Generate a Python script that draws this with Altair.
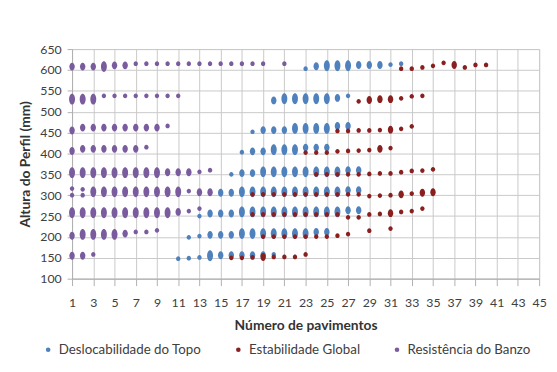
import altair as alt
import pandas as pd

SERIES = ["Deslocabilidade do Topo", "Estabilidade Global", "Resistência do Banzo"]
COLORS = ["#4f81bd", "#8a1f1f", "#7a5c9e"]

X_TICKS = [1, 3, 5, 7, 9, 11, 13, 15, 17, 19, 21, 23, 25, 27, 29, 31, 33, 35, 37, 39, 41, 43, 45]
Y_TICKS = [100, 150, 200, 250, 300, 350, 400, 450, 500, 550, 600, 650]

# n = how many profiles are stacked at that spot (1 single, 2 pair, 3 many)

# Deslocabilidade do Topo
dt_x = [23, 24, 25, 26, 27, 28, 29, 30, 31, 32,
        20, 21, 22, 23, 24, 25, 26, 27,
        18, 19, 20, 21, 22, 23, 24, 25, 26, 27,
        17, 18, 19, 20, 21, 22, 23, 24, 25,
        16, 17, 18, 19, 20, 21, 22, 23, 24, 25, 26, 27, 28,
        15, 16, 17, 18, 19, 20, 21, 22, 23, 24, 25, 26, 27, 28,
        13, 14, 15, 16, 17, 18, 19, 20, 21, 22, 23, 24, 25, 26, 27, 28,
        12, 13, 14, 15, 16, 17, 18, 19, 20, 21, 22, 23, 24, 25,
        11, 12, 13, 14, 15, 16, 17, 18, 19, 20]
dt_y = [603, 609, 610, 610, 610, 612, 612, 612, 613, 615,
        527, 531, 531, 531, 531, 531, 533, 538,
        452, 456, 456, 456, 460, 460, 460, 460, 466, 466,
        403, 405, 405, 409, 409, 409, 414, 414, 414,
        350, 353, 353, 356, 356, 356, 356, 356, 356, 356, 356, 360, 360,
        306, 306, 308, 308, 308, 308, 308, 308, 308, 308, 308, 308, 312, 312,
        250, 256, 256, 256, 260, 260, 260, 260, 260, 260, 260, 260, 260, 260, 264, 264,
        199, 202, 205, 205, 205, 208, 208, 208, 208, 208, 208, 208, 212, 212,
        148, 149, 151, 155, 156, 156, 156, 156, 156, 158]
dt_n = [1, 2, 3, 3, 3, 2, 2, 2, 1, 1,
        2, 3, 3, 3, 3, 3, 2, 1,
        1, 2, 2, 2, 3, 3, 3, 3, 2, 2,
        1, 2, 2, 3, 3, 3, 2, 2, 2,
        1, 2, 2, 3, 3, 3, 3, 3, 3, 3, 3, 2, 2,
        2, 2, 3, 3, 3, 3, 3, 3, 3, 3, 3, 3, 2, 2,
        1, 2, 2, 2, 3, 3, 3, 3, 3, 3, 3, 3, 3, 3, 2, 2,
        1, 1, 2, 2, 2, 3, 3, 3, 3, 3, 3, 3, 2, 2,
        1, 1, 1, 3, 2, 2, 2, 2, 2, 1]

# Estabilidade Global
eg_x = [32, 33, 34, 35, 36, 37, 38, 39, 40,
        28, 29, 30, 31, 32, 33, 34,
        26, 27, 28, 29, 30, 31, 32, 33,
        23, 24, 25, 26, 27, 28, 29, 30, 31,
        24, 25, 26, 27, 28, 29, 30, 31, 32, 33, 34, 35,
        18, 19, 20, 21, 22, 23, 24, 25, 26, 27, 28, 29, 30, 31, 32, 33, 34, 35,
        18, 19, 20, 21, 22, 23, 24, 25, 26, 27, 28, 29, 30, 31, 32, 33, 34,
        19, 20, 21, 22, 23, 24, 25, 26, 27, 29, 31,
        16, 17, 18, 19, 20, 21, 22, 23]
eg_y = [603, 603, 606, 610, 617, 612, 606, 612, 612,
        525, 528, 530, 530, 532, 537, 538,
        454, 454, 455, 455, 456, 457, 459, 465,
        402, 402, 402, 405, 406, 407, 408, 411, 413,
        350, 350, 350, 350, 350, 351, 352, 352, 355, 358, 359, 362,
        302, 302, 302, 302, 302, 302, 302, 302, 302, 302, 302, 298, 299, 300, 302, 304, 306, 307,
        254, 254, 254, 254, 254, 254, 254, 254, 254, 247, 247, 254, 255, 257, 260, 262, 268,
        201, 201, 201, 201, 201, 201, 201, 203, 207, 215, 220,
        150, 150, 151, 152, 152, 152, 152, 158]
eg_n = [1, 1, 1, 1, 1, 2, 1, 1, 1,
        1, 2, 2, 2, 1, 1, 1,
        1, 1, 1, 1, 1, 2, 1, 1,
        1, 1, 1, 1, 1, 1, 1, 2, 1,
        1, 1, 1, 1, 1, 1, 1, 1, 1, 1, 1, 1,
        1, 1, 1, 1, 1, 1, 1, 1, 1, 1, 1, 1, 1, 1, 2, 1, 2, 2,
        1, 1, 1, 1, 1, 1, 1, 1, 1, 1, 1, 1, 1, 2, 1, 1, 1,
        1, 1, 1, 1, 1, 1, 1, 1, 1, 1, 1,
        1, 1, 1, 2, 1, 1, 1, 1]

# Resistência do Banzo
rb_x = [1, 2, 3, 4, 5, 6, 7, 8, 9, 10, 11, 12, 13, 14, 15, 16, 17, 18, 19, 21,
        1, 2, 3, 4, 5, 6, 7, 8, 9, 10, 11,
        1, 2, 3, 4, 5, 6, 7, 8, 9, 10,
        1, 2, 3, 4, 5, 6, 7, 8,
        1, 2, 3, 4, 5, 6, 7, 8, 9, 10, 11, 12, 13, 14,
        1, 1, 2, 2, 3, 4, 5, 6, 7, 8, 9, 10, 11, 12, 13, 14,
        1, 2, 3, 4, 5, 6, 7, 8, 9, 10, 11, 12, 13,
        1, 2, 3, 4, 5, 6, 7, 8, 9,
        1, 2, 3]
rb_y = [608, 608, 608, 608, 611, 611, 615, 615, 615, 615, 615, 615, 615, 615, 615, 615, 615, 615, 615, 615,
        530, 530, 530, 538, 538, 538, 538, 538, 538, 538, 538,
        455, 462, 462, 462, 462, 462, 462, 462, 462, 466,
        406, 411, 411, 411, 411, 411, 411, 415,
        354, 354, 354, 354, 354, 354, 354, 354, 354, 355, 355, 355, 356, 360,
        316, 300, 314, 300, 308, 308, 308, 308, 308, 308, 308, 308, 308, 310, 307, 307,
        258, 258, 258, 258, 258, 258, 258, 258, 258, 258, 260, 262, 268,
        203, 206, 206, 206, 206, 208, 212, 212, 216,
        155, 155, 158]
rb_n = [2, 2, 2, 3, 2, 2, 1, 1, 1, 1, 1, 1, 1, 1, 1, 1, 1, 1, 1, 1,
        3, 3, 3, 1, 1, 1, 1, 1, 1, 1, 1,
        2, 2, 2, 2, 2, 2, 2, 2, 2, 1,
        2, 2, 2, 2, 2, 2, 2, 1,
        3, 3, 3, 3, 3, 3, 3, 3, 3, 2, 2, 2, 1, 1,
        1, 1, 1, 1, 3, 3, 3, 3, 3, 3, 3, 3, 3, 1, 2, 2,
        3, 3, 3, 3, 3, 3, 3, 3, 3, 3, 2, 1, 1,
        2, 3, 3, 3, 3, 2, 1, 1, 1,
        2, 2, 1]

frames = []
for name, xs, ys, ns in [(SERIES[0], dt_x, dt_y, dt_n),
                         (SERIES[1], eg_x, eg_y, eg_n),
                         (SERIES[2], rb_x, rb_y, rb_n)]:
    frames.append(pd.DataFrame({"serie": name, "pav": xs, "altura": ys, "n": ns}))
df = pd.concat(frames, ignore_index=True)
df["ordem"] = range(len(df))

# blob outlines: single, pair, stack (vertical ellipses)
SHAPES = [
    "M0,-0.48A0.44,0.48,0,1,1,0,0.48A0.44,0.48,0,1,1,0,-0.48Z",
    "M0,-0.8A0.55,0.8,0,1,1,0,0.8A0.55,0.8,0,1,1,0,-0.8Z",
    "M0,-1.1A0.6,1.1,0,1,1,0,1.1A0.6,1.1,0,1,1,0,-1.1Z",
]

FONT = "Lato"
GRID = "#c9c9c9"

points = alt.Chart(df).mark_point(filled=True, opacity=1, size=100, strokeWidth=0).encode(
    x=alt.X("pav:Q", scale=alt.Scale(domain=[1, 45], nice=False, zero=False),
            axis=alt.Axis(values=X_TICKS, title="Número de pavimentos", tickSize=7,
                          labelPadding=11, titlePadding=10, labelFlush=False)),
    y=alt.Y("altura:Q", scale=alt.Scale(domain=[100, 650], nice=False, zero=False),
            axis=alt.Axis(values=Y_TICKS, title="Altura do Perfil  (mm)", tickSize=5,
                          labelPadding=6, titlePadding=7)),
    color=alt.Color("serie:N", scale=alt.Scale(domain=SERIES, range=COLORS),
                    legend=alt.Legend(title=None, orient="none", legendX=-31, legendY=298,
                                      direction="horizontal", symbolType="circle",
                                      symbolSize=22, labelFont=FONT, labelFontSize=13.5,
                                      labelColor="#404040", columnPadding=30,
                                      labelOffset=4, padding=0)),
    shape=alt.Shape("n:O", scale=alt.Scale(domain=[1, 2, 3], range=SHAPES), legend=None),
    order=alt.Order("ordem:Q"),
)

chart = points.properties(
    width=474, height=233,
    autosize=alt.AutoSizeParams(type="none"),
    padding={"left": 65, "top": 39, "right": 10, "bottom": 92},
).configure_axis(
    labelFont=FONT, labelFontSize=12.5, labelColor="#404040",
    titleFont=FONT, titleFontSize=14, titleFontWeight="bold", titleColor="#333333",
    gridColor=GRID, domainColor="#b0b0b0", tickColor="#b0b0b0",
).configure_view(stroke=GRID)

chart.save("out.html", embed_options={"renderer": "svg", "actions": False})
